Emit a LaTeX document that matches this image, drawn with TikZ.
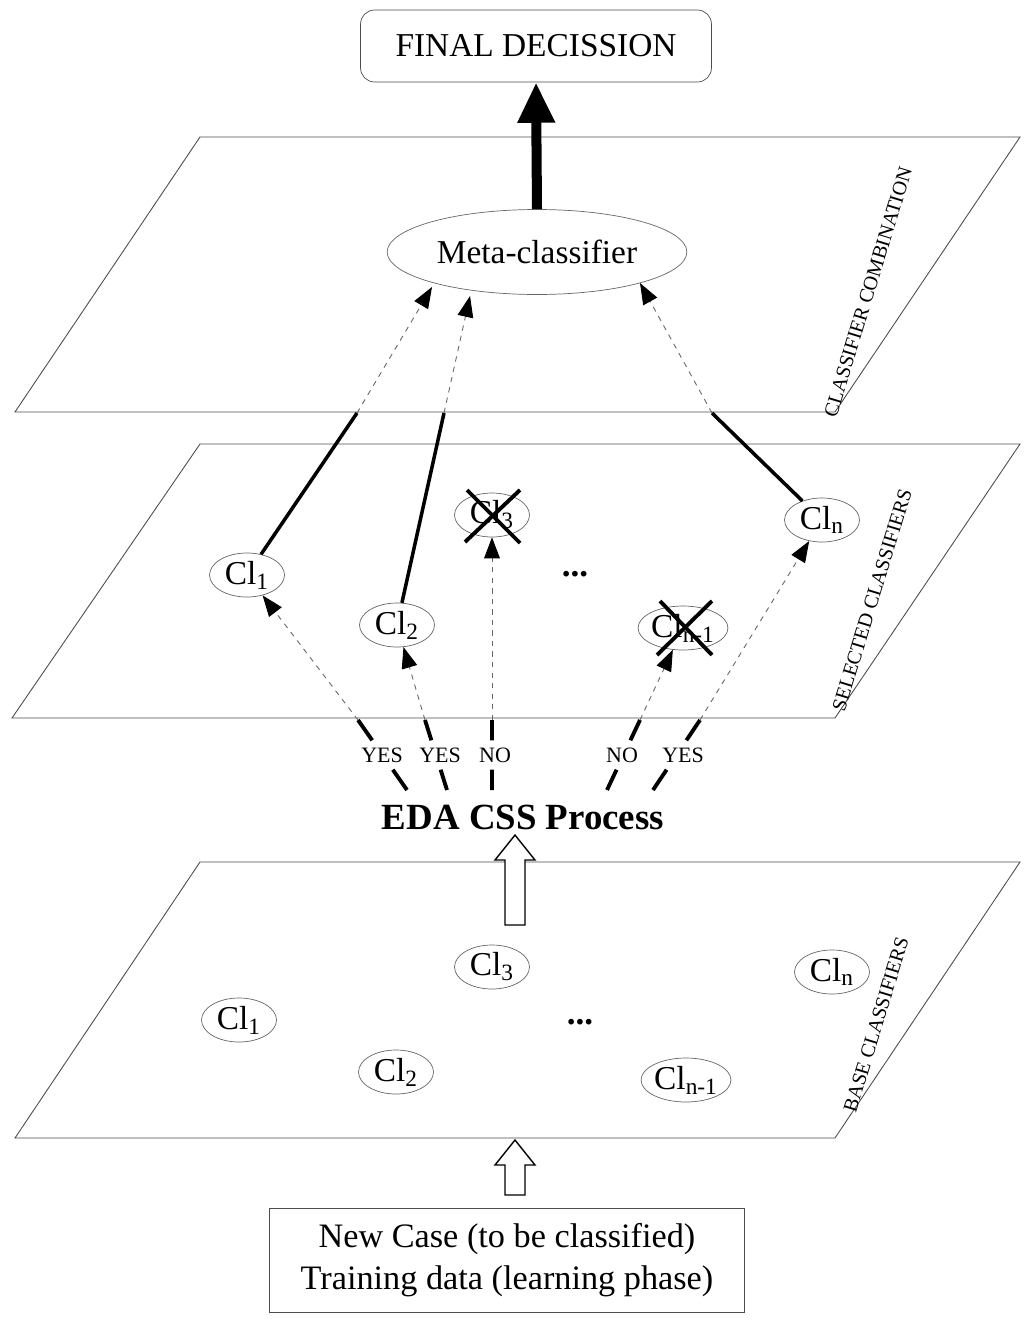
\documentclass[tikz,border=0pt]{standalone}
\usepackage{fontspec}
\setmainfont{Liberation Serif}
\usetikzlibrary{arrows.meta,calc,shapes.geometric}
\begin{document}
\begin{tikzpicture}[x=0.02cm,y=-0.02cm,
  plane/.style={draw=black!70,line width=0.5pt},
  cl/.style={ellipse,draw=black!60,inner sep=0pt,minimum width=1.5cm,minimum height=0.88cm,font=\fontsize{19}{22}\selectfont},
  dsh/.style={dashed,draw=black!60,line width=0.5pt,-{Triangle[length=12pt,width=9pt,fill=black,color=black]}},
  sol/.style={line width=2pt},
  thk/.style={line width=2.2pt},
  side/.style={font=\fontsize{11.5}{13}\selectfont,rotate=73},
  yn/.style={font=\fontsize{12.5}{14}\selectfont},
  hollow/.style={draw,line width=0.8pt,fill=white}]
\useasboundingbox (0,0) rectangle (1024,1322);
% planes
\draw[plane] (200,137) -- (1020,137) -- (835,412) -- (15,412) -- cycle;
\draw[plane] (200,444) -- (1020,444) -- (835,718) -- (12,718) -- cycle;
\draw[plane] (200,862) -- (1020,862) -- (835,1138) -- (15,1138) -- cycle;
\node[side] at (868,292) {CLASSIFIER COMBINATION};
\node[side] at (872,600) {SELECTED CLASSIFIERS};
\node[side] at (876,1025) {BASE CLASSIFIERS};
% top
\node[draw=black!70,rounded corners=8pt,minimum width=7.02cm,minimum height=1.44cm,font=\fontsize{19}{22}\selectfont] (fd) at (536,46) {FINAL DECISSION};
\node[ellipse,draw=black!60,minimum width=4.9cm,minimum height=1.7cm,font=\fontsize{19}{22}\selectfont] (meta) at (537,252) {Meta-classifier};
\draw[line width=5.7pt,-{Triangle[length=23pt,width=20pt]}] (meta.north) -- (fd.south);
% selected classifiers
\node[cl] (s1) at (247,575) {Cl\textsubscript{1}};
\node[cl] (s2) at (397,625) {Cl\textsubscript{2}};
\node[cl] (s3) at (492,515) {Cl\textsubscript{3}};
\node[cl] (sn1) at (683,628) {Cl\textsubscript{n-1}};
\node[cl] (sn) at (822,520) {Cl\textsubscript{n}};
\node[font=\bfseries\fontsize{20}{22}\selectfont] (d1) at (575,574) {...};
\draw[thk] (467,490) -- (520,543) (520,490) -- (465,542);
\draw[thk] (660,601) -- (712,655) (712,601) -- (657,655);
% connections to meta
\coordinate (m1) at (357,413); \coordinate (m2) at (444,413); \coordinate (mn) at (712,413);
\draw[sol] (s1) -- (m1); \draw[sol] (s2) -- (m2); \draw[sol] (sn) -- (mn);
\draw[dsh] (m1) -- (432,287);
\draw[dsh] (m2) -- (470,296);
\draw[dsh] (mn) -- (640,283);
% EDA
\node[font=\bfseries\fontsize{21}{24}\selectfont] (eda) at (523,817) {EDA CSS Process};
\foreach \b/\t/\tgt/\lab/\lx in {407/358/s1/YES/382, 447/425/s2/YES/440, 492/492/s3/NO/495, 607/640/sn1/NO/622, 653/700/sn/YES/683}{
  \coordinate (b) at (\b,790); \coordinate (t) at (\t,720);
  \draw[thk] (b) -- ($(b)!0.29!(t)$) ($(b)!0.71!(t)$) -- (t);
  \draw[dsh] (t) -- (\tgt);
  \node[yn] at (\lx,755) {\lab};
}
% hollow arrow EDA
\draw[hollow] (505,925) -- (525,925) -- (525,860) -- (535,860) -- (515,835) -- (495,860) -- (505,860) -- cycle;
% base classifiers
\node[cl] (b3) at (492,967) {Cl\textsubscript{3}};
\node[cl] (bn) at (832,972) {Cl\textsubscript{n}};
\node[cl] (b1) at (239,1020) {Cl\textsubscript{1}};
\node[cl] (b2) at (396,1072) {Cl\textsubscript{2}};
\node[cl] (bn1) at (686,1080) {Cl\textsubscript{n-1}};
\node[font=\bfseries\fontsize{20}{22}\selectfont] (d2) at (580,1022) {...};
% bottom box
\node[draw=black!70,minimum width=9.5cm,minimum height=2.08cm,align=center,font=\fontsize{19.5}{24}\selectfont] (nc) at (507,1260) {New Case (to be classified)\\Training data (learning phase)};
\draw[hollow] (505,1195) -- (525,1195) -- (525,1165) -- (535,1165) -- (515,1140) -- (495,1165) -- (505,1165) -- cycle;
\end{tikzpicture}
\end{document}
